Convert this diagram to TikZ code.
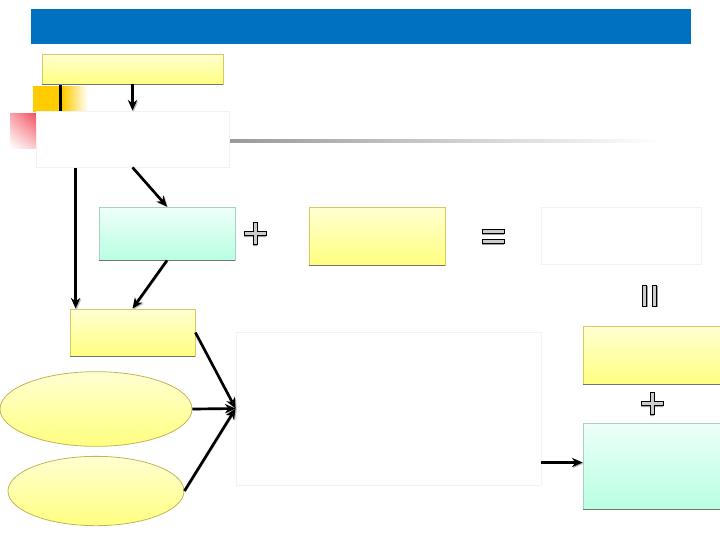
\documentclass[tikz,border=0pt]{standalone}
\usetikzlibrary{arrows.meta,fit,shapes.geometric,backgrounds,shadings}
\definecolor{hdrblue}{HTML}{0070C0}
\definecolor{ytop}{HTML}{FFFFD2}
\definecolor{ybot}{HTML}{FFFF80}
\definecolor{yedge}{HTML}{D8C860}
\definecolor{ttop}{HTML}{EEFFF9}
\definecolor{tbot}{HTML}{B8FFE2}
\definecolor{tedge}{HTML}{A8CFC6}
\definecolor{decoorange}{HTML}{FFCC00}
\definecolor{decored}{HTML}{F03040}

\begin{document}
\begin{tikzpicture}[x=0.75pt,y=-0.75pt,
    ybox/.style={draw=yedge, top color=ytop, bottom color=ybot, inner sep=0pt, line width=0.6pt},
    tbox/.style={draw=tedge, top color=ttop, bottom color=tbot, inner sep=0pt, line width=0.6pt},
    wbox/.style={draw=black!5, fill=white, inner sep=0pt, line width=0.6pt},
    yell/.style={ellipse, draw=yedge!90!black, top color=ytop, bottom color=ybot, inner sep=0pt, line width=0.6pt},
    conn/.style={line width=2pt, -{Stealth[length=8pt,width=7pt]},
        preaction={draw=gray!55, transform canvas={shift={(0.8pt,-0.8pt)}}}},
    sign/.style={draw=black, fill=gray!40, line width=0.6pt},
    signshadow/.style={fill=gray!75}]
    \useasboundingbox (0,0) rectangle (720,540);
    \clip (0,0) rectangle (720,540);

    % Header bar
    \node[fill=hdrblue, fit={(31,9) (691,44)}, inner sep=0pt] (title) {};

    % Boxes
    \node[ybox, fit={(42,54) (223,84)}] (goal) {};
    \node[wbox, fit={(36,111) (229,167)}] (src) {};
    \node[tbox, fit={(99,207) (235,260)}] (mid) {};
    \node[ybox, fit={(309,207) (445,265)}] (addend) {};
    \node[wbox, fit={(541,207) (701,264)}] (total) {};
    \node[ybox, fit={(70,309) (195,356)}] (resid) {};
    \node[wbox, fit={(236,332) (541,485)}] (proc) {};
    \node[ybox, fit={(583,326) (730,384)}] (part) {};
    \node[tbox, fit={(583,423) (730,509)}] (rest) {};

    % Ellipses
    \node[yell, minimum width=144pt, minimum height=56pt] (ell1) at (96,409) {};
    \node[yell, minimum width=132pt, minimum height=52pt] (ell2) at (96,491) {};

    % Bottom shadows
    \foreach \n in {goal,mid,addend,resid,part,rest} {
        \draw[black!55, line width=0.9pt] ([yshift=-0.3pt]\n.south west) -- ([yshift=-0.3pt]\n.south east);
    }

    % Decoration and rule behind the source box
    \begin{scope}[on background layer]
        \fill[decoorange] (33,86) rectangle (63,112);
        \shade[left color=decoorange, right color=white] (63,86) rectangle (88,112);
        \shade[upper left=decored!45, upper right=decored!85, lower left=white, lower right=decored!25] (10,113) rectangle (36,148);
        \shade[left color=gray!80, right color=white] (229,139.5) rectangle (662,142.8);
        \draw[conn] ([xshift=14.25pt]goal.south west) -- ++(0,56) -| ([xshift=4.5pt]resid.north west);
    \end{scope}

    % Connectors
    \draw[conn] (goal.south) -- (src.north);
    \draw[conn] (src.south) -- (mid.north);
    \draw[conn] (mid.south) -- (resid.north);
    \draw[conn] (resid.east) -- (proc.west);
    \draw[conn] (ell1.east) -- (proc.west);
    \draw[conn] (ell2.east) -- (proc.west);
    \draw[conn] ([yshift=-40.5pt]proc.east) -- ([yshift=-40.5pt]proc.east -| rest.west);

    % Plus signs
    \foreach \cx/\cy in {255/233, 652/403} {
        \begin{scope}[shift={(\cx,\cy)}]
            \fill[signshadow] (-2,-9) -- (2,-9) -- (2,0) -- (11,0) -- (11,4) -- (2,4) -- (2,13) -- (-2,13) -- (-2,4) -- (-11,4) -- (-11,0) -- (-2,0) -- cycle;
            \draw[sign] (-2,-11) -- (2,-11) -- (2,-2) -- (11,-2) -- (11,2) -- (2,2) -- (2,11) -- (-2,11) -- (-2,2) -- (-11,2) -- (-11,-2) -- (-2,-2) -- cycle;
        \end{scope}
    }

    % Equals signs
    \begin{scope}[shift={(493,236)}]
        \fill[signshadow] (-11,-5) rectangle (11,-1);
        \fill[signshadow] (-11,5) rectangle (11,9);
        \draw[sign] (-11,-7) rectangle (11,-3);
        \draw[sign] (-11,3) rectangle (11,7);
    \end{scope}
    \begin{scope}[shift={(650,296)}]
        \fill[signshadow] (-6,-10) rectangle (-2,11);
        \fill[signshadow] (4,-10) rectangle (8,11);
        \draw[sign] (-8,-11) rectangle (-4,10);
        \draw[sign] (2,-11) rectangle (6,10);
    \end{scope}
\end{tikzpicture}
\end{document}
